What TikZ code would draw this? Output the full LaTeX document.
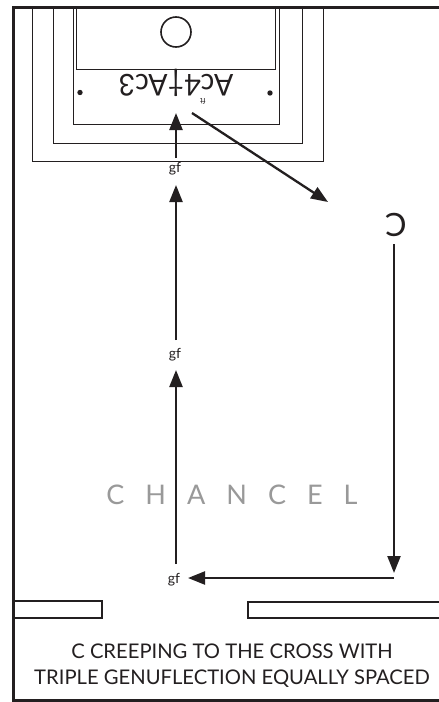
\documentclass[tikz,border=0pt]{standalone}
\usepackage{fontspec}
\setmainfont{Lato}
\usetikzlibrary{arrows.meta,calc}
\definecolor{ink}{HTML}{231F20}
\tikzset{
  wall/.style={draw=ink,line width=2.4pt},
  thin wall/.style={draw=ink,line width=1pt},
  route/.style={draw=ink,line width=2.3pt,-{Triangle[length=17pt,width=13pt]}},
  gf label/.style={font=\fontsize{14}{14}\selectfont,text=ink,inner sep=0pt},
  caption/.style={font=\fontsize{20.2}{26}\selectfont,text=ink,align=center},
}
\begin{document}
\begin{tikzpicture}[x=1pt,y=-1pt]
\useasboundingbox (0,0) rectangle (439,702);
\fill[white] (0,0) rectangle (439,702);
% outer frame
\draw[wall,line width=3pt] (439,7) -- (13,7) -- (13,700) -- (439,700);
% nested steps
\draw[thin wall] (32,7) |- (323,161) -- (323,7);
\draw[thin wall] (53,7) |- (302,143) -- (302,7);
\draw[thin wall] (73.5,7) |- (279,124) -- (279,7);
\draw[thin wall] (76.5,7) |- (275,69) -- (275,7);
% altar
\node[draw=ink,line width=1.6pt,circle,minimum size=30pt,inner sep=0pt] (host) at (176,32) {};
\fill[ink] (80,92.5) circle (2.7pt) (270,93) circle (2.7pt);
\node[rotate=180,xscale=0.95,font=\fontsize{30}{30}\selectfont,text=ink,inner sep=0pt] (altar) at (176,83) {Ac4\char"2020 Ac3};
\node[rotate=180,font=\fontsize{8}{8}\selectfont,text=ink,inner sep=0pt] (ft) at (203,101) {ft};
% walls
\draw[wall] (14,601) rectangle (102,618);
\draw[wall] (439,602) -- (248,602) -- (248,618) -- (439,618);
% stations
\node[gf label] (gf1) at (175,169) {gf};
\node[gf label] (gf2) at (175,355) {gf};
\node[gf label] (gf3) at (174,580) {gf};
\coordinate (cross) at (176,113);
\coordinate (start) at (192,113);
\coordinate (tipC) at (328,202);
\node[rotate=180,font=\fontsize{32}{32}\selectfont,text=ink,inner sep=0pt] (C) at (396,225) {C};
\coordinate (turn) at (394,578);
% routes
\draw[route] (176,158) -- (cross);
\draw[route] (176,340) -- (176,185);
\draw[route] (176,564) -- (176,370);
\draw[route] (394,244) -- (394,573);
\draw[route] (turn) -- (188,578);
\draw[route] (start) -- (tipC);
% labels
\node[font=\fontsize{27}{27}\selectfont,text=black!40] (chancel) at (232,495) {C\hspace{21pt}H\hspace{21pt}A\hspace{21pt}N\hspace{21pt}C\hspace{21pt}E\hspace{21pt}L};
\node[caption] (cap) at (232,666) {C CREEPING TO THE CROSS WITH\\TRIPLE GENUFLECTION EQUALLY SPACED};
\end{tikzpicture}
\end{document}
